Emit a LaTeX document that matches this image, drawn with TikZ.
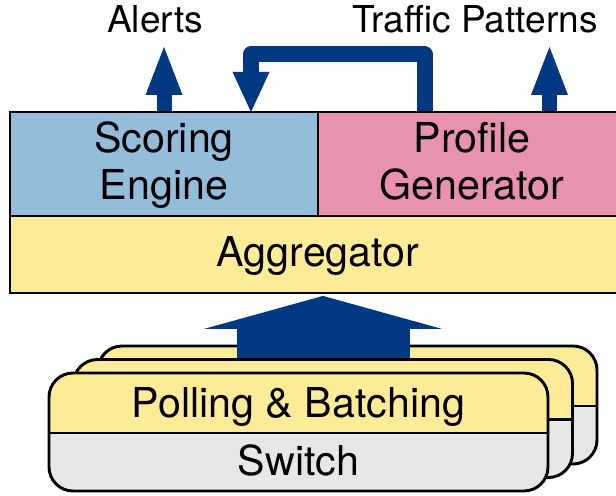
\documentclass[tikz,border=0pt]{standalone}
\usepackage{fontspec}
\setmainfont{TeX Gyre Heros}
\usetikzlibrary{arrows.meta,backgrounds}

\definecolor{arrowblue}{RGB}{0,56,130}
\definecolor{scoreblue}{RGB}{148,189,220}
\definecolor{profpink}{RGB}{232,146,176}
\definecolor{paleyellow}{RGB}{252,236,152}
\definecolor{swgrey}{RGB}{230,231,233}

% one switch card: yellow polling layer over a grey switch layer
\newcommand\stackcard[2]{%
  \begin{scope}[shift={(#1,#2)}]
    \begin{scope}
      \clip[rounded corners=18pt] (0,0) rectangle (499,118);
      \fill[swgrey] (0,0) rectangle (499,118);
      \fill[paleyellow] (0,0) rectangle (499,60);
    \end{scope}
    \draw[line width=2.2pt] (0,60) -- (499,60);
    \draw[line width=2.2pt, rounded corners=18pt] (0,0) rectangle (499,118);
  \end{scope}}

\begin{document}
\begin{tikzpicture}[x=0.75pt, y=-0.75pt,
  lbl/.style={font=\fontsize{30.9pt}{35.25pt}\selectfont, align=center, inner sep=0pt},
  toplbl/.style={font=\fontsize{27.8pt}{32pt}\selectfont, inner sep=0pt},
  box/.style={draw=black, line width=2.2pt, inner sep=0pt},
  flow/.style={draw=arrowblue, line width=11.25pt, line join=round}]

\clip (0,0) rectangle (616,495);

% analysis tier
\node[box, fill=scoreblue, minimum width=231pt, minimum height=78pt] (scoring) at (164,164) {};
\node[box, fill=profpink, minimum width=231pt, minimum height=78pt] (profile) at (472,164) {};
\node[box, fill=paleyellow, minimum width=462pt, minimum height=57.75pt] (agg) at (318,254.5) {};
\node[lbl] (scoringtxt) at ([yshift=-2.3pt]scoring.center) {\strut Scoring\\Engine\strut};
\node[lbl] (profiletxt) at ([yshift=-2.3pt]profile.center) {\strut Profile\\Generator\strut};
\node[lbl] (aggtxt) at ([yshift=-2.3pt]agg.center) {\strut Aggregator};

% outputs
\node[toplbl, anchor=base] (alerts) at (155,33) {Alerts};
\node[toplbl, anchor=base] (traffic) at (475,33) {Traffic Patterns};

\coordinate (alertTip) at (164,47);
\coordinate (trafficTip) at (549.5,47);
\coordinate (fbStart) at (424.5,112);
\coordinate (fbEnd) at (251,112);

\begin{scope}[on background layer]
  \draw[flow, -{Triangle[width=27.75pt,length=36pt,line width=0pt]}]
    (scoring.north) -- (alertTip);
  \draw[flow, -{Triangle[width=27.75pt,length=36pt,line width=0pt]}]
    (profile.north -| trafficTip) -- (trafficTip);
  \draw[flow, line width=12pt, -{Triangle[width=27.75pt,length=30pt,line width=0pt]}]
    (fbStart) -- ++(0,-57.5) -| (fbEnd);
\end{scope}

% switch tier
\stackcard{98}{346}
\coordinate (feed) at (323,366);
\draw[draw=arrowblue, line width=129.75pt, shorten >=1.1pt,
      -{Triangle[width=178.5pt,length=24.75pt,line width=0pt]}]
  (feed) -- (feed |- agg.south);
\stackcard{73.5}{359.5}
\stackcard{49}{373}
\node[lbl, anchor=base] (poll) at (298.5,417) {Polling \& Batching};
\node[lbl, anchor=base] (switch) at (298.5,475) {Switch};

\end{tikzpicture}
\end{document}
